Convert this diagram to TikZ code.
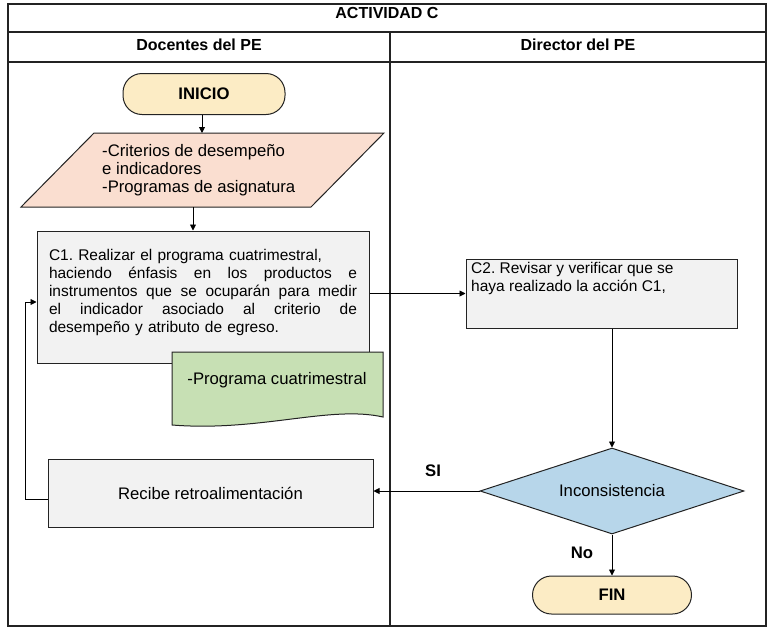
\documentclass[tikz,border=0pt]{standalone}
\usepackage{fontspec}
\setmainfont{Liberation Sans}
\usetikzlibrary{arrows.meta,shapes.geometric,calc}
\frenchspacing

\definecolor{termfill}{RGB}{252,236,197}
\definecolor{inputfill}{RGB}{250,222,208}
\definecolor{procfill}{RGB}{242,242,242}
\definecolor{docfill}{RGB}{199,224,180}
\definecolor{decfill}{RGB}{183,214,234}
\definecolor{edge}{RGB}{35,35,35}

% one fully justified line of the C1 paragraph
\newcommand{\justline}[1]{\leavevmode\hbox to 308pt{#1}}
\newcommand{\gap}{\hfil\ }

\begin{document}
\begin{tikzpicture}[x=1pt,y=-1pt,
  font=\fontsize{16.7}{18}\selectfont,
  small/.style={font=\fontsize{15.5}{18}\selectfont},
  tableline/.style={draw=edge,line width=1.4pt},
  header/.style={font=\fontsize{16}{18}\selectfont\bfseries,inner sep=0pt},
  terminal/.style={draw=edge,line width=1pt,fill=termfill,rounded corners=19pt,
    font=\fontsize{16.7}{18}\selectfont\bfseries,inner sep=0pt},
  procbox/.style={draw=edge,line width=1pt,fill=procfill,inner sep=0pt},
  inputbox/.style={draw=edge,line width=1pt,fill=inputfill},
  docbox/.style={draw=edge,line width=1pt,fill=docfill},
  decision/.style={draw=edge,line width=1pt,fill=decfill,shape=diamond,aspect=3,
    inner sep=0pt},
  plaintext/.style={inner sep=0pt,align=left},
  flow/.style={draw=black,line width=0.9pt,-{Triangle[length=6pt,width=6pt]}},
  answer/.style={font=\fontsize{16.7}{18}\selectfont\bfseries,inner sep=0pt}
]
\useasboundingbox (0,0) rectangle (769,627);

% swimlane table
\draw[tableline] (8,4) rectangle (766,626);
\draw[tableline] (8,32) -- (766,32);
\draw[tableline] (8,62) -- (766,62);
\draw[tableline] (390,32) -- (390,626);
\node[header] (title) at (387,13) {ACTIVIDAD C};
\node[header] (laneA) at (199,45) {Docentes del PE};
\node[header] (laneB) at (578,45) {Director del PE};

% start
\node[terminal,minimum width=162pt,minimum height=41pt] (inicio) at (204,94) {INICIO};

% input data (parallelogram)
\path[inputbox] (94,133) -- (384,133) -- (311,207) -- (21,207) -- cycle;
\coordinate (critTop) at (202,133);
\coordinate (critBot) at (193,207);
\node[plaintext,anchor=north west] (crit) at (102,144)
  {-Criterios de desempeño\\e indicadores\\-Programas de asignatura};

% C1 process
\node[procbox,small,minimum width=332pt,minimum height=132pt,text width=308pt,align=left]
  (c1) at (203,297) {C1. Realizar el programa cuatrimestral,\\
  \justline{haciendo\gap énfasis\gap en\gap los\gap productos\gap e}\\
  \justline{instrumentos\gap que\gap se\gap ocuparán\gap para\gap medir}\\
  \justline{el\gap indicador\gap asociado\gap al\gap criterio\gap de}\\
  desempeño y atributo de egreso.\\[-6pt]\mbox{}};

% output document
\path[docbox] (172,352) -- (383,352) -- (383,417)
  .. controls (330,405) and (260,432) .. (172,425) -- cycle;
\node[inner sep=0pt] (doc) at (277,380) {-Programa cuatrimestral};

% C2 process
\node[procbox,minimum width=271pt,minimum height=69pt] (c2) at (601.5,293.5) {};
\node[plaintext,small,anchor=north west] (c2text) at (471,262)
  {C2. Revisar y verificar que se\\haya realizado la acción C1,};

% decision
\node[decision,minimum width=264pt,minimum height=86pt] (dec) at (612,491) {Inconsistencia};

% feedback
\node[procbox,minimum width=325pt,minimum height=68pt] (recibe) at (210.5,493)
  {Recibe retroalimentación};

% end
\node[terminal,minimum width=159pt,minimum height=38pt] (fin) at (612,595) {FIN};

% connectors
\draw[flow] (inicio.south -| critTop) -- (critTop);
\draw[flow] (critBot) -- (critBot |- c1.north);
\draw[flow] (c1.east |- c2.west) -- (c2.west);
\draw[flow] (dec.north |- c2.south) -- (dec.north);
\draw[flow] (dec.west) -- (dec.west -| recibe.east);
\draw[flow] (dec.south) -- (fin.north);
\coordinate (loopA) at (25,499);
\coordinate (loopB) at (25,302);
\draw[flow] (recibe.west |- loopA) -- (loopA) -- (loopB) -- (loopB -| c1.west);

% branch labels
\node[answer] (si) at (433,471) {SI};
\node[answer] (no) at (582,553) {No};
\end{tikzpicture}
\end{document}
